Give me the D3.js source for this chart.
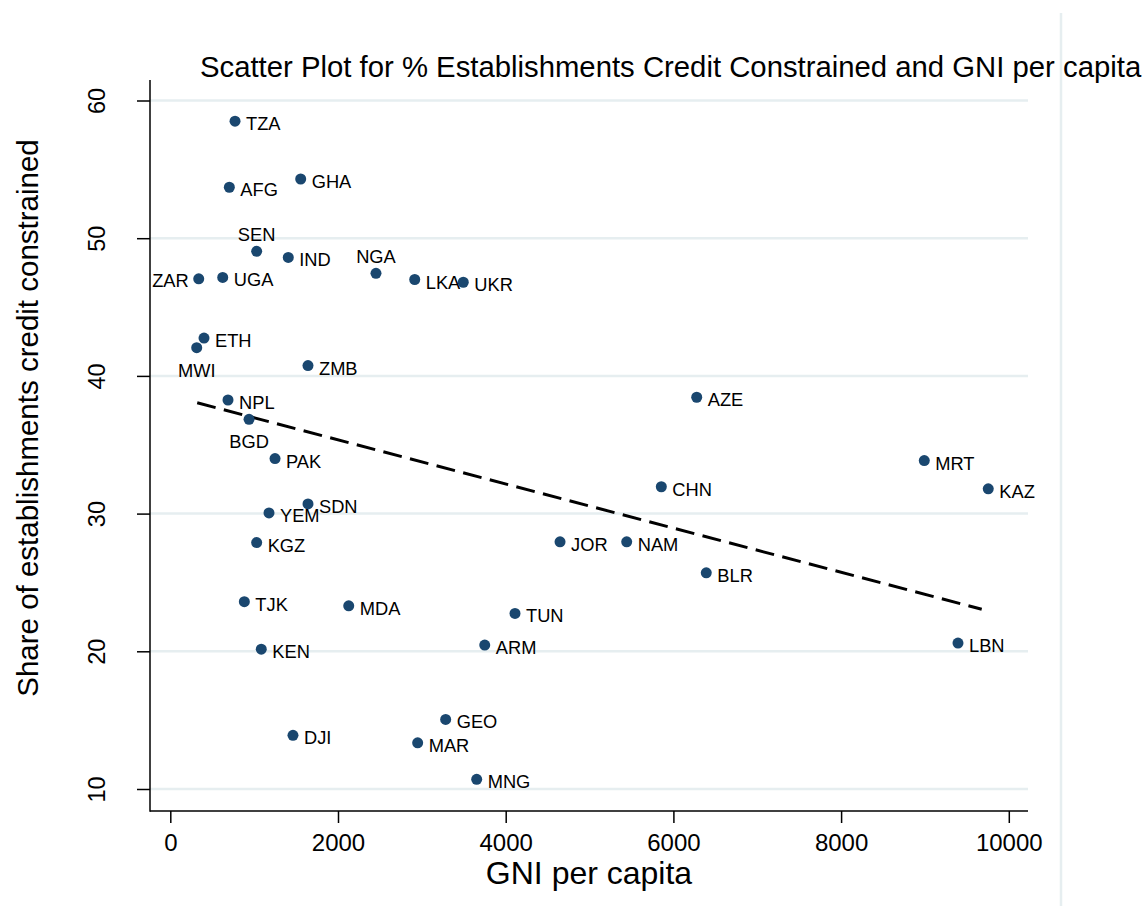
<!DOCTYPE html>
<html>
<head>
<meta charset="utf-8">
<script src="https://cdn.jsdelivr.net/npm/d3@7"></script>
<style>
  html, body { margin: 0; padding: 0; background: #ffffff; }
  svg { display: block; }
  text { font-family: "Liberation Sans", Arial, Helvetica, sans-serif; fill: #000; }
</style>
</head>
<body>
<svg id="chart" width="1145" height="919"></svg>
<script>
// Country codes, GNI per capita and share of credit-constrained establishments
const codes = ["TZA","AFG","GHA","SEN","IND","ZAR","UGA","NGA","LKA","UKR",
               "ETH","MWI","ZMB","NPL","BGD","PAK","AZE","MRT","CHN","KAZ",
               "SDN","YEM","KGZ","JOR","NAM","BLR","TJK","MDA","TUN","KEN",
               "ARM","LBN","GEO","DJI","MAR","MNG"];
const gni = [772, 704, 1555, 1030, 1407, 339, 625, 2453, 2915, 3494,
             402, 315, 1642, 688, 939, 1249, 6278, 8992, 5856, 9755,
             1642, 1177, 1030, 4648, 5443, 6392, 883, 2128, 4111, 1085,
             3750, 9394, 3284, 1463, 2950, 3654];
const share = [58.5, 53.7, 54.3, 49.05, 48.6, 47.05, 47.15, 47.45, 47.0, 46.8,
               42.75, 42.05, 40.75, 38.25, 36.85, 34.0, 38.45, 33.85, 31.95, 31.8,
               30.7, 30.05, 27.9, 27.95, 27.95, 25.7, 23.6, 23.3, 22.75, 20.15,
               20.45, 20.6, 15.05, 13.9, 13.35, 10.7];

// Linear fit line endpoints (GNI, share)
const fitGni = [321, 9677];
const fitShare = [38.05, 23.05];

// Axis ticks
const xTicks = [0, 2000, 4000, 6000, 8000, 10000];
const yTicks = [10, 20, 30, 40, 50, 60];

// Marker label clock positions (default is 3 o'clock)
const labelClock = { SEN: 12, NGA: 12, ZAR: 9, MWI: 6, BGD: 6 };

const svg = d3.select("#chart");
const gridColor = "#e6eef0";
const markerColor = "#1a476f";

const x = d3.scaleLinear().domain([0, 10000]).range([170.3, 1008.8]);
const y = d3.scaleLinear().domain([10, 60]).range([789, 100.5]);

const plotLeft = 150, plotRight = 1028, plotTop = 80, plotBottom = 811;

// Separator line on the right
svg.append("line")
  .attr("x1", 1061).attr("x2", 1061)
  .attr("y1", 13).attr("y2", 906)
  .attr("stroke", gridColor).attr("stroke-width", 2.5);

// Horizontal gridlines
svg.append("g").selectAll("line").data(yTicks).join("line")
  .attr("x1", plotLeft).attr("x2", plotRight)
  .attr("y1", d => y(d)).attr("y2", d => y(d))
  .attr("stroke", gridColor).attr("stroke-width", 2.5);

// Y axis
const yAxis = svg.append("g")
  .attr("transform", `translate(${plotLeft},0)`)
  .call(d3.axisLeft(y).tickValues(yTicks).tickSize(13).tickSizeOuter(0).tickFormat(d3.format("d")));
yAxis.select(".domain").remove();
yAxis.selectAll(".tick line").attr("stroke", "#000").attr("stroke-width", 1.5);
yAxis.selectAll(".tick text")
  .attr("font-size", 23.5)
  .attr("x", 0).attr("y", 0)
  .attr("dy", null)
  .attr("text-anchor", "middle")
  .attr("transform", "translate(-53,0) rotate(-90) translate(0,8)");

// X axis
const xAxis = svg.append("g")
  .attr("transform", `translate(0,${plotBottom})`)
  .call(d3.axisBottom(x).tickValues(xTicks).tickSize(12).tickSizeOuter(0).tickFormat(d3.format("d")));
xAxis.select(".domain").remove();
xAxis.selectAll(".tick line").attr("stroke", "#000").attr("stroke-width", 1.5);
xAxis.selectAll(".tick text")
  .attr("font-size", 24)
  .attr("y", 40).attr("dy", null);

// Axis lines
svg.append("line")
  .attr("x1", plotLeft).attr("x2", plotLeft)
  .attr("y1", plotTop).attr("y2", plotBottom + 0.75)
  .attr("stroke", "#000").attr("stroke-width", 1.5);
svg.append("line")
  .attr("x1", plotLeft).attr("x2", plotRight)
  .attr("y1", plotBottom).attr("y2", plotBottom)
  .attr("stroke", "#000").attr("stroke-width", 1.5);

// Fitted line
svg.append("line")
  .attr("x1", x(fitGni[0])).attr("y1", y(fitShare[0]))
  .attr("x2", x(fitGni[1])).attr("y2", y(fitShare[1]))
  .attr("stroke", "#000").attr("stroke-width", 3)
  .attr("stroke-dasharray", "19 8.5");

// Points
const pts = codes.map((c, i) => ({ code: c, gni: gni[i], share: share[i] }));

svg.append("g").selectAll("circle").data(pts).join("circle")
  .attr("cx", d => x(d.gni)).attr("cy", d => y(d.share))
  .attr("r", 5.5).attr("fill", markerColor);

// Marker labels
svg.append("g").selectAll("text").data(pts).join("text")
  .attr("font-size", 18.3)
  .each(function(d) {
    const pos = labelClock[d.code] || 3;
    const cx = x(d.gni), cy = y(d.share);
    const t = d3.select(this).text(d.code);
    if (pos === 3) t.attr("x", cx + 11).attr("y", cy + 9).attr("text-anchor", "start");
    else if (pos === 9) t.attr("x", cx - 10).attr("y", cy + 8).attr("text-anchor", "end");
    else if (pos === 12) t.attr("x", cx).attr("y", cy - 10).attr("text-anchor", "middle");
    else if (pos === 6) t.attr("x", cx).attr("y", cy + 29).attr("text-anchor", "middle");
  });

// Axis titles
svg.append("text")
  .attr("x", (plotLeft + plotRight) / 2).attr("y", 884)
  .attr("text-anchor", "middle").attr("font-size", 32)
  .text("GNI per capita");

svg.append("text")
  .attr("transform", "translate(38,418) rotate(-90)")
  .attr("text-anchor", "middle").attr("font-size", 29.5)
  .text("Share of establishments credit constrained");

// Title
svg.append("text")
  .attr("x", 200).attr("y", 77)
  .attr("text-anchor", "start").attr("font-size", 29.3)
  .text("Scatter Plot for % Establishments Credit Constrained and GNI per capita");
</script>
</body>
</html>
